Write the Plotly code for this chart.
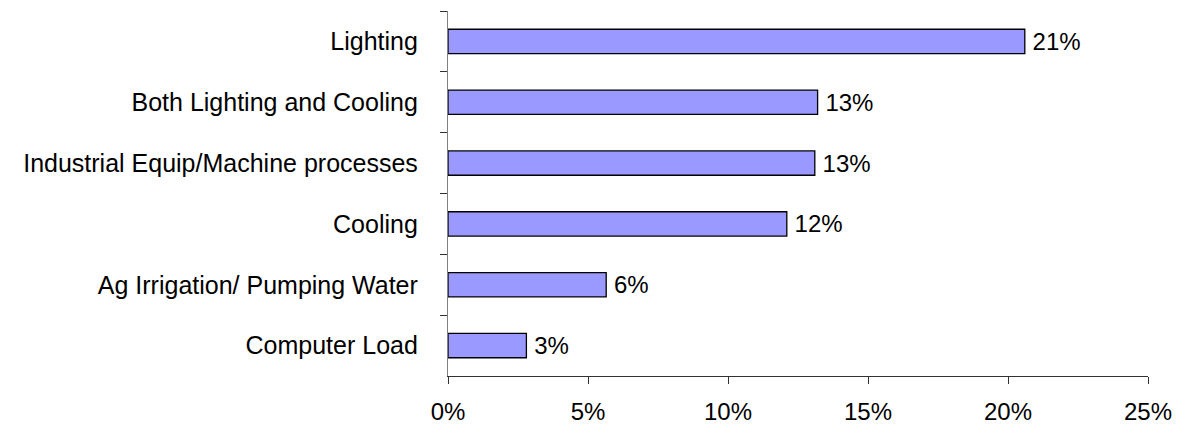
import plotly.graph_objects as go

categories = ["Lighting", "Both Lighting and Cooling", "Industrial Equip/Machine processes",
              "Cooling", "Ag Irrigation/ Pumping Water", "Computer Load"]
values = [20.6, 13.2, 13.1, 12.1, 5.65, 2.8]
labels = ["21%", "13%", "13%", "12%", "6%", "3%"]
tick_vals = [0, 5, 10, 15, 20, 25]
tick_text = ["0%", "5%", "10%", "15%", "20%", "25%"]

FONT = "Liberation Sans, Arial, sans-serif"

fig = go.Figure(go.Bar(
    x=values, y=categories, orientation="h",
    marker=dict(color="#9999FF", line=dict(color="#000000", width=1.3)),
    width=0.4,
    text=["\u2009" + t for t in labels], textposition="outside", cliponaxis=False,
    constraintext="none",
    textfont=dict(family=FONT, size=24, color="#000000"),
))

fig.update_layout(
    width=1178, height=425,
    margin=dict(l=448, r=30, t=11, b=49, autoexpand=False),
    paper_bgcolor="white", plot_bgcolor="white",
    showlegend=False,
    font=dict(family=FONT, size=24, color="#000000"),
)
fig.update_xaxes(
    range=[0, 25], tickvals=tick_vals, ticktext=tick_text,
    showgrid=False, zeroline=False, automargin=False,
    showline=True, linecolor="#333333", linewidth=1.3,
    ticks="outside", ticklen=7, tickcolor="#333333", tickwidth=1,
    ticklabelstandoff=7,
    tickfont=dict(family=FONT, size=24, color="#000000"),
)
fig.update_yaxes(
    autorange="reversed", type="category",
    showgrid=False, zeroline=False, automargin=False,
    showline=True, linecolor="#808080", linewidth=1.3,
    ticks="outside", ticklen=7, tickcolor="#333333", tickwidth=1,
    tickson="boundaries", ticklabelstandoff=24,
    tickfont=dict(family=FONT, size=25, color="#000000"),
)

fig.write_html("out.html")
